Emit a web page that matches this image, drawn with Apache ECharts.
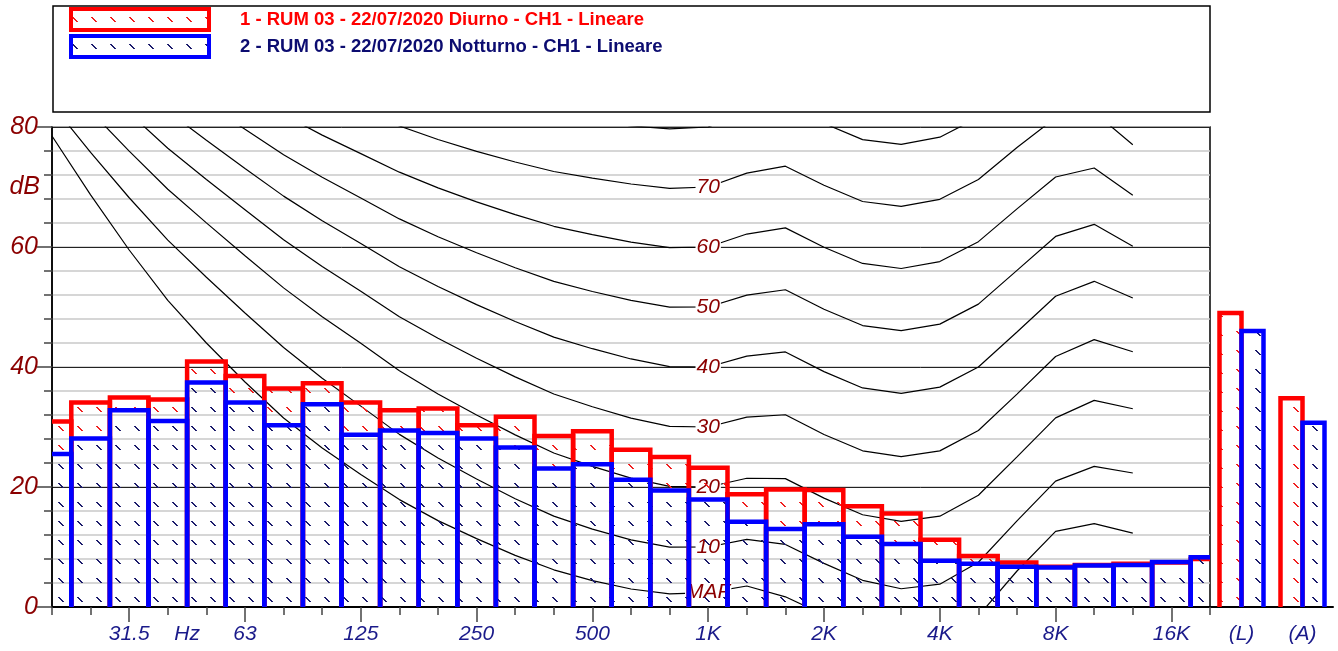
<!DOCTYPE html>
<html>
<head>
<meta charset="utf-8">
<script src="https://cdn.jsdelivr.net/npm/echarts@6/dist/echarts.min.js"></script>
<style>
html,body{margin:0;padding:0;background:#fff;}
#c{width:1338px;height:651px;}
</style>
</head>
<body>
<div id="c"></div>
<script>
// ---------- DATA ----------
const bands = ['20','25','31.5','40','50','63','80','100','125','160','200','250','315','400','500','630','800','1K','1.25K','1.6K','2K','2.5K','3.15K','4K','5K','6.3K','8K','10K','12.5K','16K','20K'];
const octaveTicks = ['31.5','63','125','250','500','1K','2K','4K','8K','16K'];
const nameDiurno = '1 - RUM 03 - 22/07/2020 Diurno - CH1 - Lineare';
const nameNotturno = '2 - RUM 03 - 22/07/2020 Notturno - CH1 - Lineare';
const diurno   = [30.9,34.1,34.9,34.6,40.9,38.5,36.4,37.3,34.1,32.8,33.1,30.3,31.7,28.5,29.3,26.2,25.0,23.2,18.8,19.6,19.5,16.8,15.6,11.2,8.5,7.4,6.7,7.0,7.2,7.4,8.0];
const notturno = [25.5,28.1,32.8,31.0,37.4,34.1,30.3,33.8,28.7,29.4,29.0,28.1,26.6,23.1,23.8,21.2,19.4,17.9,14.2,13.0,13.8,11.7,10.5,7.7,7.2,6.7,6.6,6.9,7.0,7.5,8.3];
const totalCats = ['(L)','(A)'];
const diurnoTot = [49.0,34.8];
const notturnoTot = [46.0,30.7];
// equal-loudness contours, 20 Hz .. 12.5 kHz
const contourMAF = [78.5,68.7,59.5,51.1,44.0,37.5,31.5,26.5,22.1,17.9,14.4,11.4,8.6,6.2,4.4,3.0,2.2,2.4,3.5,1.7,-1.3,-4.2,-6.0,-5.4,-1.5,6.0,12.6,13.9,12.3];
const contour10 = [83.75,75.76,68.21,61.14,54.96,49.01,43.24,38.13,33.48,28.77,24.84,21.33,18.05,15.14,12.98,11.18,9.99,10.0,11.26,10.43,7.27,4.45,3.04,3.80,7.46,14.35,20.98,23.43,22.33];
const contour20 = [89.58,82.65,75.98,69.62,64.02,58.55,53.19,48.38,43.94,39.37,35.51,31.99,28.69,25.67,23.43,21.48,20.10,20.0,21.46,21.40,18.15,15.38,14.26,15.14,18.63,25.02,31.52,34.43,33.04];
const contour30 = [94.85,88.52,82.36,76.45,71.26,66.20,61.22,56.76,52.64,48.38,44.78,41.47,38.36,35.50,33.37,31.49,30.11,30.0,31.65,32.04,28.76,26.03,25.05,26.02,29.42,35.48,41.75,44.57,42.55];
const contour40 = [99.85,93.94,88.17,82.63,77.78,73.08,68.48,64.37,60.59,56.70,53.41,50.40,47.58,44.98,43.05,41.34,40.06,40.0,41.82,42.51,39.23,36.51,35.61,36.65,40.01,45.83,51.80,54.28,51.49];
const contour50 = [104.72,99.14,93.70,88.49,83.96,79.61,75.36,71.61,68.17,64.68,61.72,59.04,56.55,54.27,52.59,51.10,49.98,50.0,51.99,52.87,49.62,46.91,46.05,47.15,50.48,56.11,61.76,63.78,60.14];
const contour60 = [109.51,104.23,99.08,94.18,89.96,85.94,82.05,78.65,75.56,72.47,69.86,67.53,65.39,63.45,62.05,60.82,59.89,60.0,62.16,63.19,59.96,57.26,56.42,57.57,60.89,66.36,71.66,73.16,68.63];
const contour70 = [114.26,109.25,104.38,99.78,95.87,92.18,88.64,85.60,82.85,80.17,77.92,75.94,74.16,72.58,71.47,70.50,69.78,70.0,72.32,73.47,70.28,67.58,66.76,67.95,71.26,76.59,81.54,82.46,77.04];
const contour80 = [119.0,114.2,109.6,105.5,101.9,98.4,95.2,92.5,90.1,87.8,85.9,84.3,82.9,81.7,80.9,80.2,79.7,80.0,82.5,83.7,80.6,77.9,77.1,78.3,81.6,86.8,91.4,91.7,85.4];
const contours = [
  ['MAF', contourMAF], ['10', contour10], ['20', contour20], ['30', contour30], ['40', contour40],
  ['50', contour50], ['60', contour60], ['70', contour70], ['80', contour80]
];
const labelBand = '1K';

// ---------- STYLE HELPERS ----------
const FONT = 'Liberation Sans, Arial, sans-serif';
const RED = '#ff0000', BLUE = '#0000ff', NAVY = '#1a1a8a', DARKRED = '#8b0000';
const BAR_LW = 4.5;
function makeHatch(color) {
  const c = document.createElement('canvas');
  c.width = 19; c.height = 19;
  const g = c.getContext('2d');
  g.fillStyle = color;
  for (let k = 0; k < 5; k++) g.fillRect(1 + k, 8 + k, 2, 1);
  return c;
}
const redHatch = { image: makeHatch('#f02020'), repeat: 'repeat' };
const blueHatch = { image: makeHatch('#1c1c6c'), repeat: 'repeat' };

function bandRender(color, pat) {
  return function (params, api) {
    const top = api.coord([api.value(0), api.value(1)]);
    const base = api.coord([api.value(0), 0]);
    const w = api.size([1, 0])[0];
    const x0 = top[0] - w / 2, x1 = top[0] + w / 2;
    return {
      type: 'group',
      children: [
        { type: 'rect', shape: { x: x0, y: top[1], width: w, height: base[1] - top[1] }, style: { fill: pat }, silent: true },
        { type: 'polyline', shape: { points: [[x0, base[1]], [x0, top[1]], [x1, top[1]], [x1, base[1]]] },
          style: { stroke: color, lineWidth: BAR_LW, fill: null, lineJoin: 'miter' }, silent: true }
      ]
    };
  };
}
function totRender(color, pat, side) {
  return function (params, api) {
    const top = api.coord([api.value(0), api.value(1)]);
    const base = api.coord([api.value(0), 0]);
    const w = 22;
    const x0 = side < 0 ? top[0] - w : top[0];
    const x1 = x0 + w;
    return {
      type: 'group',
      children: [
        { type: 'rect', shape: { x: x0, y: top[1], width: w, height: base[1] - top[1] }, style: { fill: pat }, silent: true },
        { type: 'polyline', shape: { points: [[x0, base[1]], [x0, top[1]], [x1, top[1]], [x1, base[1]]] },
          style: { stroke: color, lineWidth: BAR_LW, fill: null, lineJoin: 'miter' }, silent: true }
      ]
    };
  };
}
const isOct = (i) => octaveTicks.indexOf(bands[i]) >= 0;
const axisLabelStyle = { color: NAVY, fontStyle: 'italic', fontSize: 21, fontFamily: FONT };

// ---------- SERIES ----------
const series = [];
contours.forEach(([nm, arr]) => {
  const li = bands.indexOf(labelBand);
  series.push({
    type: 'line', name: 'c' + nm, xAxisIndex: 0, yAxisIndex: 0, z: 1,
    data: arr.map((v, i) => (i === li && nm !== '80') ? { value: v, label: { show: true } } : v),
    symbol: 'circle', symbolSize: 0.1, showSymbol: true, showAllSymbol: true,
    itemStyle: { color: 'rgba(0,0,0,0)' },
    lineStyle: { color: '#000', width: 1.2 },
    label: { show: false, position: 'inside', formatter: nm, color: DARKRED, fontStyle: 'italic',
             fontSize: 21, fontFamily: FONT, backgroundColor: '#fff', padding: [0, 1] },
    emphasis: { disabled: true }, silent: true, animation: false, clip: true
  });
});
series.push({
  type: 'custom', name: nameDiurno, xAxisIndex: 0, yAxisIndex: 0, z: 2, clip: true,
  itemStyle: { color: RED }, renderItem: bandRender(RED, redHatch),
  data: diurno.map((v, i) => [i, v]), animation: false
});
series.push({
  type: 'custom', name: nameNotturno, xAxisIndex: 0, yAxisIndex: 0, z: 3, clip: true,
  itemStyle: { color: BLUE }, renderItem: bandRender(BLUE, blueHatch),
  data: notturno.map((v, i) => [i, v]), animation: false
});
series.push({
  type: 'custom', name: nameDiurno, xAxisIndex: 3, yAxisIndex: 3, z: 2,
  itemStyle: { color: RED }, renderItem: totRender(RED, redHatch, -1),
  data: diurnoTot.map((v, i) => [i, v]), animation: false
});
series.push({
  type: 'custom', name: nameNotturno, xAxisIndex: 3, yAxisIndex: 3, z: 3,
  itemStyle: { color: BLUE }, renderItem: totRender(BLUE, blueHatch, 1),
  data: notturnoTot.map((v, i) => [i, v]), animation: false
});

const option = {
  animation: false,
  backgroundColor: '#fff',
  grid: [
    { left: 52, right: 128, top: 127, bottom: 44, show: true, borderColor: '#000', borderWidth: 1.5, backgroundColor: 'transparent', containLabel: false, outerBoundsMode: 'none' },
    { left: 1211, right: 5, top: 127, bottom: 44, containLabel: false, outerBoundsMode: 'none' }
  ],
  legend: {
    orient: 'vertical', left: 69, top: 7, padding: 0, itemWidth: 138, itemHeight: 21, itemGap: 2,
    icon: 'rect', selectedMode: false,
    textStyle: { fontWeight: 'bold', fontSize: 18.5, lineHeight: 19, fontFamily: FONT, padding: [0, 0, 3, 26] },
    data: [
      { name: nameDiurno, itemStyle: { color: redHatch, borderColor: RED, borderWidth: 4 }, textStyle: { color: RED } },
      { name: nameNotturno, itemStyle: { color: blueHatch, borderColor: BLUE, borderWidth: 4 }, textStyle: { color: '#0c0c70' } }
    ]
  },
  graphic: [
    { type: 'rect', shape: { x: 53, y: 6, width: 1157, height: 106 }, style: { fill: null, stroke: '#000', lineWidth: 1.5 }, silent: true }
  ],
  xAxis: [
    { gridIndex: 0, type: 'category', data: bands, boundaryGap: false, position: 'bottom',
      axisLine: { show: true, lineStyle: { color: '#000', width: 2 } },
      axisTick: { show: true, interval: 0, length: 8, lineStyle: { color: '#444', width: 1.5 } },
      axisLabel: { show: false }, splitLine: { show: false } },
    { gridIndex: 0, type: 'category', data: bands, boundaryGap: false, position: 'bottom',
      axisLine: { show: false },
      axisTick: { show: true, interval: (i) => isOct(i), length: 15, lineStyle: { color: '#444', width: 1.5 } },
      axisLabel: Object.assign({ interval: (i) => isOct(i), margin: 17 }, axisLabelStyle), splitLine: { show: false } },
    { gridIndex: 0, type: 'value', min: 0, max: 30, interval: 0.5, position: 'bottom',
      axisLine: { show: false }, axisTick: { show: false }, splitLine: { show: false },
      axisLabel: Object.assign({ margin: 17, formatter: (v) => (v === 3.5 ? 'Hz' : '') }, axisLabelStyle) },
    { gridIndex: 1, type: 'category', data: totalCats, position: 'bottom',
      axisLine: { show: true, lineStyle: { color: '#000', width: 2 } },
      axisTick: { show: false }, splitLine: { show: false },
      axisLabel: Object.assign({ margin: 17 }, axisLabelStyle) }
  ],
  yAxis: [
    { gridIndex: 0, type: 'value', min: 0, max: 80, interval: 4, position: 'left',
      axisLine: { show: true, lineStyle: { color: '#000', width: 1.5 } },
      axisTick: { show: true, length: 8, lineStyle: { color: '#444', width: 1.5 } },
      axisLabel: { show: false },
      splitLine: { show: true, lineStyle: { color: '#c8c8c8', width: 1.5 } } },
    { gridIndex: 0, type: 'value', min: 0, max: 80, interval: 20, position: 'left',
      axisLine: { show: false },
      axisTick: { show: true, length: 15, lineStyle: { color: '#444', width: 1.5 } },
      axisLabel: { color: DARKRED, fontStyle: 'italic', fontSize: 25, fontFamily: FONT, margin: 14 },
      splitLine: { show: true, lineStyle: { color: '#222', width: 1 } } },
    { gridIndex: 0, type: 'value', min: 0, max: 80, interval: 10, position: 'left',
      axisLine: { show: false }, axisTick: { show: false }, splitLine: { show: false },
      axisLabel: { color: DARKRED, fontStyle: 'italic', fontSize: 25, fontFamily: FONT, margin: 12,
                   formatter: (v) => (v === 70 ? 'dB' : '') } },
    { gridIndex: 1, type: 'value', min: 0, max: 80, show: false, splitLine: { show: false } }
  ],
  series: series
};
const chart = echarts.init(document.getElementById('c'), null, { renderer: 'canvas' });
chart.setOption(option);
</script>
</body>
</html>
